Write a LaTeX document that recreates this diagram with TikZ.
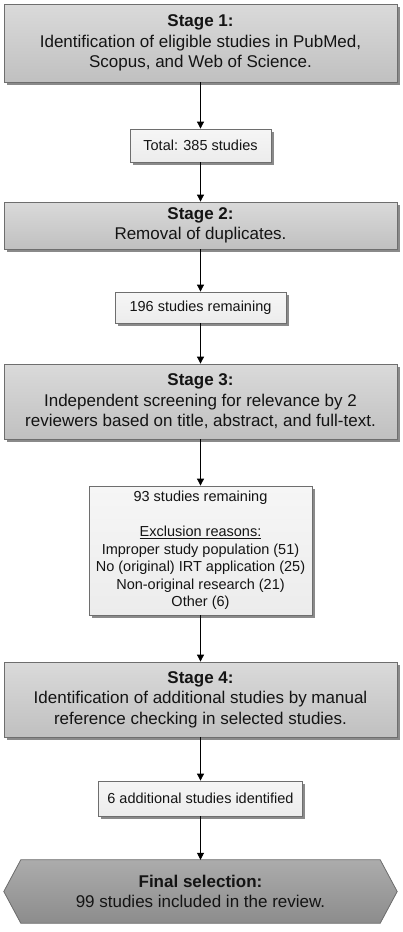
\documentclass[tikz,border=0pt]{standalone}
\usepackage{fontspec}
\setmainfont{Liberation Sans}
\usetikzlibrary{arrows.meta,shadows,backgrounds,calc}
\definecolor{bordergray}{HTML}{6E6E6E}
\definecolor{stagetop}{HTML}{DADADA}
\definecolor{stagebot}{HTML}{C0C0C0}
\definecolor{infotop}{HTML}{F6F6F6}
\definecolor{infobot}{HTML}{ECECEC}
\definecolor{finaltop}{HTML}{ACACAC}
\definecolor{finalbot}{HTML}{8C8C8C}
\definecolor{shadowgray}{HTML}{8A8A8A}
\definecolor{textcol}{HTML}{141414}
\begin{document}
\begin{tikzpicture}[x=1pt,y=-1pt,
  stagebox/.style={draw=bordergray, line width=0.8pt, top color=stagetop, bottom color=stagebot,
    minimum width=393pt, inner sep=0pt, align=center, text=textcol,
    font=\fontsize{17}{20.5}\selectfont,
    drop shadow={shadow xshift=2.5pt, shadow yshift=-2.5pt, fill=shadowgray, opacity=1}},
  infobox/.style={draw=bordergray, line width=0.8pt, top color=infotop, bottom color=infobot,
    inner sep=0pt, align=center, text=textcol,
    font=\fontsize{14.5}{17.5}\selectfont,
    drop shadow={shadow xshift=2.5pt, shadow yshift=-2.5pt, fill=shadowgray, opacity=1}},
  finalbox/.style={minimum width=393pt, inner sep=0pt, align=center, text=textcol,
    font=\fontsize{17}{20.5}\selectfont},
  conn/.style={-{Triangle[length=7pt,width=7pt]}, line width=0.8pt, black}
]
\useasboundingbox (0,0) rectangle (403,932);

\node[stagebox, minimum height=78pt] (s1) at (200.5,43)
  {\textbf{Stage 1:}\\Identification of eligible studies in PubMed,\\Scopus, and Web of Science.};
\node[infobox, minimum width=141pt, minimum height=33pt] (total) at (200.5,145.5)
  {Total: 385 studies};
\node[stagebox, minimum height=47pt] (s2) at (200.5,225.5)
  {\textbf{Stage 2:}\\Removal of duplicates.};
\node[infobox, minimum width=171pt, minimum height=31pt] (r196) at (200.5,307.5)
  {196 studies remaining};
\node[stagebox, minimum height=75pt] (s3) at (200.5,401.5)
  {\textbf{Stage 3:}\\Independent screening for relevance by 2\\reviewers based on title, abstract, and full-text.};
\node[infobox, minimum width=223pt, minimum height=129pt] (r93) at (200.5,550.5)
  {93 studies remaining\\[17.5pt]\underline{Exclusion reasons:}\\Improper study population (51)\\No (original) IRT application (25)\\Non-original research (21)\\Other (6)};
\node[stagebox, minimum height=75pt] (s4) at (200.5,699.5)
  {\textbf{Stage 4:}\\Identification of additional studies by manual\\reference checking in selected studies.};
\node[infobox, minimum width=204pt, minimum height=35pt] (add6) at (200.5,798.5)
  {6 additional studies identified};
\node[finalbox, minimum height=63pt] (final) at (200.5,891.5)
  {\textbf{Final selection:}\\99 studies included in the review.};

\begin{scope}[on background layer]
  \fill[white] (0,0) rectangle (403,932);
  \fill[shadowgray, shift={(2.5,2.5)}]
    (final.west) -- ($(final.north west)+(17,0)$) -- ($(final.north east)+(-17,0)$)
    -- (final.east) -- ($(final.south east)+(-17,0)$) -- ($(final.south west)+(17,0)$) -- cycle;
  \draw[draw=bordergray, line width=0.8pt, top color=finaltop, bottom color=finalbot]
    (final.west) -- ($(final.north west)+(17,0)$) -- ($(final.north east)+(-17,0)$)
    -- (final.east) -- ($(final.south east)+(-17,0)$) -- ($(final.south west)+(17,0)$) -- cycle;
\end{scope}

\draw[conn] (s1) -- (total);
\draw[conn] (total) -- (s2);
\draw[conn] (s2) -- (r196);
\draw[conn] (r196) -- (s3);
\draw[conn] (s3) -- (r93);
\draw[conn] (r93) -- (s4);
\draw[conn] (s4) -- (add6);
\draw[conn] (add6) -- (final.north);
\end{tikzpicture}
\end{document}
